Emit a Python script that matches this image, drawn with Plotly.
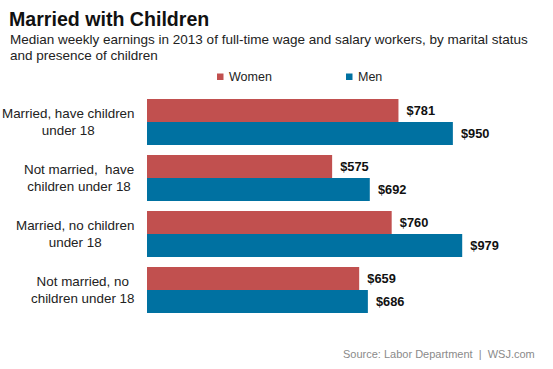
import plotly.graph_objects as go

categories = [
    "Married, have children under 18",
    "Not married,  have children under 18",
    "Married, no children under 18",
    "Not married, no children under 18",
]
category_labels = [
    "Married, have children<br>under 18",
    "Not married,  have<br>children under 18",
    "Married, no children<br>under 18",
    "Not married, no<br>children under 18",
]
women = [781, 575, 760, 659]
men = [950, 692, 979, 686]
series_names = ["Women", "Men"]
colors = ["#c1504f", "#0071a1"]

W, H = 553, 369
ML, MR, MT, MB = 147, 0, 94, 51
PW, PH = W - ML - MR, H - MT - MB

def px(x):
    return (x - ML) / PW

def py(y):
    return (H - MB - y) / PH

FONT = "Arial, Liberation Sans, Helvetica, sans-serif"

fig = go.Figure()
for name, vals, col in zip(series_names, [women, men], colors):
    fig.add_trace(go.Bar(
        y=categories, x=vals, name=name, orientation="h",
        marker=dict(color=col, line=dict(width=0)),
        texttemplate="\u2009\u2009$%{x}", textposition="outside",
        textfont=dict(family=FONT, size=12.8, color="#111111", weight="bold"),
        constraintext="none", cliponaxis=False,
        hoverinfo="skip", showlegend=False,
    ))

annotations = []
for cat, lab in zip(categories, category_labels):
    annotations.append(dict(
        x=0, xref="paper", y=cat, yref="y", xanchor="right", yanchor="middle",
        xshift=-11, text=lab, align="center", showarrow=False,
        font=dict(family=FONT, size=13.4, color="#222222"),
    ))

# Title and subtitle
annotations.append(dict(x=px(7), y=py(19), xref="paper", yref="paper", xanchor="left",
                        yanchor="middle", showarrow=False, text="<b>Married with Children</b>",
                        font=dict(family=FONT, size=19.6, color="#111111")))
annotations.append(dict(x=px(8), y=py(40), xref="paper", yref="paper", xanchor="left",
                        yanchor="middle", showarrow=False,
                        text="Median weekly earnings in 2013 of full-time wage and salary workers, by marital status",
                        font=dict(family=FONT, size=13.5, color="#222222")))
annotations.append(dict(x=px(8), y=py(55), xref="paper", yref="paper", xanchor="left",
                        yanchor="middle", showarrow=False,
                        text="and presence of children",
                        font=dict(family=FONT, size=13.5, color="#222222")))

# Legend
legend_x = [217, 346]
shapes = []
for name, col, lx in zip(series_names, colors, legend_x):
    shapes.append(dict(type="rect", xref="paper", yref="paper",
                       x0=px(lx), x1=px(lx + 6.5), y0=py(80), y1=py(73.5),
                       fillcolor=col, line=dict(width=0)))
    annotations.append(dict(x=px(lx + 9.5), y=py(77), xref="paper", yref="paper",
                            xanchor="left", yanchor="middle", showarrow=False, text=name,
                            font=dict(family=FONT, size=12.5, color="#222222")))

# Source
annotations.append(dict(x=px(537), y=py(354), xref="paper", yref="paper", xanchor="right",
                        yanchor="middle", showarrow=False,
                        text="Source: Labor Department  |  WSJ.com",
                        font=dict(family=FONT, size=11, color="#8a8a8a")))

fig.update_layout(
    width=W, height=H,
    margin=dict(l=ML, r=MR, t=MT, b=MB),
    paper_bgcolor="white", plot_bgcolor="white",
    barmode="group", bargap=0.18, bargroupgap=0,
    xaxis=dict(range=[0, 1261], visible=False, fixedrange=True),
    yaxis=dict(autorange="reversed", showticklabels=False, showgrid=False,
               zeroline=False, showline=False, ticks="", fixedrange=True),
    annotations=annotations, shapes=shapes,
    font=dict(family=FONT),
)

fig.write_html("out.html", config={"displayModeBar": False},
               post_script="document.body.style.margin='0px';")
